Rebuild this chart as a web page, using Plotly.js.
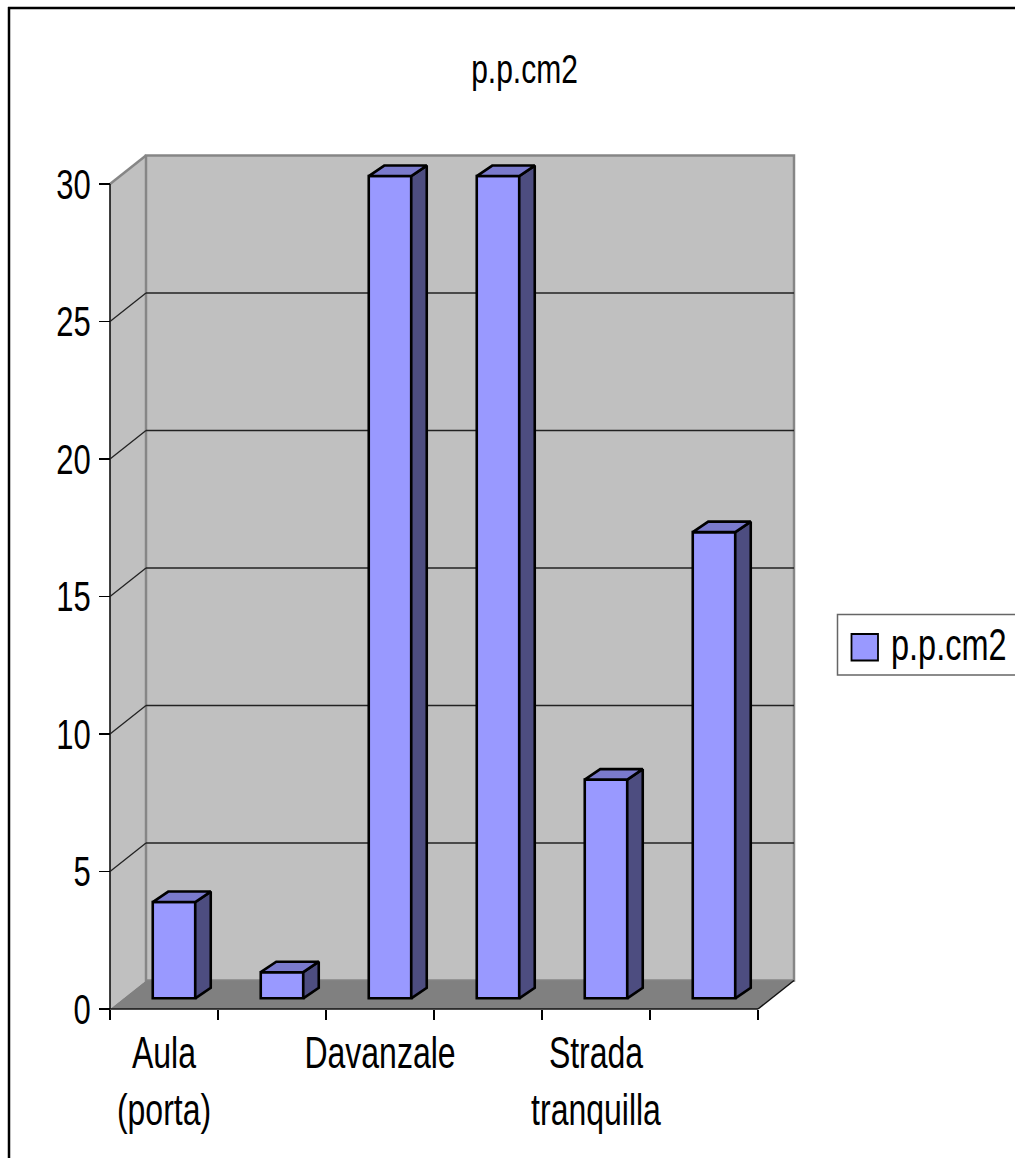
<!DOCTYPE html>
<html>
<head>
<meta charset="utf-8">
<title>p.p.cm2</title>
<script src="https://cdn.plot.ly/plotly-3.0.1.min.js"></script>
<style>html,body{margin:0;padding:0;background:#fff;overflow:hidden}#chart{width:1015px;height:1158px}</style>
</head>
<body>
<div id="chart"></div>
<script>
// Series
const categories = ['Aula (porta)', 'Cat 2', 'Davanzale', 'Cat 4', 'Strada tranquilla', 'Cat 6'];
const values = [3.5, 0.95, 29.9, 29.9, 7.95, 16.95];
const seriesName = 'p.p.cm2';

// Axis labels
const xLabelPositions = [0.5, 2.5, 4.5];
const xLabels = ['Aula<br>(porta)', 'Davanzale', 'Strada<br>tranquilla'];
const yTicks = [0, 5, 10, 15, 20, 25, 30];

// Page geometry
const W = 1015, H = 1158;
const origin = {x: 110, y: 1009};          // where value 0 meets the first category
const pxPerCat = 108, pxPerUnit = 27.5;
const plot = {l: 100, r: 800, t: 150, b: 1020};

// Oblique projection, in axis units
const wallDx = 36 / pxPerCat, wallDy = 28.5 / pxPerUnit;
const barShift = 10 / pxPerCat, barW = 42.5 / pxPerCat, barBase = 10.7 / pxPerUnit;
const barDx = 15.5 / pxPerCat, barDy = 10.5 / pxPerUnit;

// All chart text is drawn tall and narrow
const textStretch = 1.38;

const xRange = [(plot.l - origin.x) / pxPerCat, (plot.r - origin.x) / pxPerCat];
const yRange = [(origin.y - plot.b) / pxPerUnit, (origin.y - plot.t) / pxPerUnit];
const nCat = categories.length, yMax = yTicks[yTicks.length - 1];

const px = x => (x - plot.l) / (plot.r - plot.l);
const py = y => (plot.b - y) / (plot.b - plot.t);

const centers = categories.map((_, i) => i + 0.5 + barShift);

// Front faces come from a bar trace; top and side faces are derived from the same values
const sideX = [], sideY = [], topX = [], topY = [];
values.forEach((v, i) => {
  const r = centers[i] + barW / 2, l = centers[i] - barW / 2, t = barBase + v;
  sideX.push(r, r + barDx, r + barDx, r, r, null);
  sideY.push(barBase, barBase + barDy, t + barDy, t, barBase, null);
  topX.push(l, l + barDx, r + barDx, r, l, null);
  topY.push(t, t + barDy, t + barDy, t, t, null);
});

const edge = {color: '#000', width: 2.6};
const traces = [
  {type: 'bar', name: seriesName, x: centers, y: values, base: barBase, width: barW,
   marker: {color: '#9999ff', line: edge}, showlegend: false},
  {type: 'scatter', mode: 'lines', x: sideX, y: sideY, fill: 'toself', fillcolor: '#4d4d80',
   line: edge, showlegend: false},
  {type: 'scatter', mode: 'lines', x: topX, y: topY, fill: 'toself', fillcolor: '#7a7acc',
   line: edge, showlegend: false}
];

const poly = pts => 'M' + pts.map(p => p.join(',')).join('L') + 'Z';
const noLine = {width: 0};
const wallLine = {color: '#868686', width: 2.5};
const gridLine = {color: '#222', width: 1.3};
const shapes = [
  // Side wall, back wall and floor
  {type: 'path', layer: 'below', path: poly([[0, 0], [0, yMax], [wallDx, yMax + wallDy], [wallDx, wallDy]]),
   fillcolor: '#c0c0c0', line: noLine},
  {type: 'rect', layer: 'below', x0: wallDx, x1: nCat + wallDx, y0: wallDy, y1: yMax + wallDy,
   fillcolor: '#c0c0c0', line: wallLine},
  {type: 'path', layer: 'below', path: poly([[0, 0], [nCat, 0], [nCat + wallDx, wallDy], [wallDx, wallDy]]),
   fillcolor: '#808080', line: noLine},
  {type: 'line', layer: 'below', x0: 0, x1: wallDx, y0: yMax, y1: yMax + wallDy, line: wallLine},
  {type: 'line', layer: 'below', x0: nCat, x1: nCat + wallDx, y0: 0, y1: wallDy, line: {color: '#111', width: 1.5}},
  // Axis lines
  {type: 'line', layer: 'below', x0: 0, x1: 0, y0: 0, y1: yMax, line: {color: '#111', width: 1.6}},
  {type: 'line', layer: 'below', x0: 0, x1: nCat, y0: 0, y1: 0, line: {color: '#111', width: 1.6}},
  // Outer frame of the chart
  {type: 'line', xref: 'paper', yref: 'paper', x0: px(9), x1: px(9), y0: py(7), y1: py(H + 5), line: {color: '#000', width: 2.5}},
  {type: 'line', xref: 'paper', yref: 'paper', x0: px(8), x1: px(W + 5), y0: py(8), y1: py(8), line: {color: '#000', width: 2.5}},
  // Legend box and swatch
  {type: 'rect', xref: 'paper', yref: 'paper', x0: px(837.5), x1: px(W + 5), y0: py(614.5), y1: py(675),
   fillcolor: '#fff', line: {color: '#666', width: 1.5}},
  {type: 'rect', xref: 'paper', yref: 'paper', x0: px(851.5), x1: px(878), y0: py(634), y1: py(660.5),
   fillcolor: '#9999ff', line: {color: '#000', width: 1.8}}
];

// Gridlines: across the back wall, and down the side wall to each tick
yTicks.filter(v => v > 0 && v < yMax).forEach(v => {
  shapes.push({type: 'line', layer: 'below', x0: wallDx, x1: nCat + wallDx, y0: v + wallDy, y1: v + wallDy, line: gridLine});
  shapes.push({type: 'line', layer: 'below', x0: 0, x1: wallDx, y0: v, y1: v + wallDy, line: gridLine});
});

const font = {family: '"Liberation Sans", Arial, sans-serif', color: '#000'};

const layout = {
  width: W, height: H,
  margin: {l: plot.l, r: W - plot.r, t: plot.t, b: H - plot.b, pad: 0},
  paper_bgcolor: '#fff', plot_bgcolor: 'rgba(0,0,0,0)',
  showlegend: false,
  bargap: 0,
  title: {text: seriesName, x: 524.5 / W, xanchor: 'center', y: 1 - 75 / H, yanchor: 'middle',
          font: {...font, size: 30}},
  xaxis: {
    range: xRange, anchor: 'free', position: py(origin.y), showgrid: false, zeroline: false, showline: false,
    tickmode: 'array', tickvals: xLabelPositions, ticktext: xLabels, ticks: '', tickangle: 0,
    ticklabelstandoff: 12, tickfont: {...font, size: 32},
    minor: {tickmode: 'array', tickvals: categories.map((_, i) => i).concat(nCat), ticks: 'outside',
            ticklen: 10, tickwidth: 1.3, tickcolor: '#000', showgrid: false}
  },
  yaxis: {
    range: yRange, anchor: 'free', position: px(origin.x), showgrid: false, zeroline: false, showline: false,
    tickmode: 'array', tickvals: yTicks, ticks: 'outside', ticklen: 11, tickwidth: 1.3, tickcolor: '#000',
    ticklabelstandoff: 2, tickfont: {...font, size: 31}
  },
  shapes: shapes,
  annotations: [
    {xref: 'paper', yref: 'paper', x: px(889), y: py(646), xanchor: 'left', yanchor: 'middle',
     showarrow: false, text: seriesName, font: {...font, size: 32.5}}
  ]
};

// Stretch a text element upward from its first baseline, then nudge it vertically
function stretchText(el, nudge) {
  const x = parseFloat(el.getAttribute('x')) || 0;
  const y = parseFloat(el.getAttribute('y')) || 0;
  const prior = el.getAttribute('transform') || '';
  el.setAttribute('transform',
    `${prior} translate(0,${nudge}) translate(${x},${y}) scale(1,${textStretch}) translate(${-x},${-y})`);
}

Plotly.newPlot('chart', traces, layout, {staticPlot: true, displayModeBar: false}).then(gd => {
  gd.querySelectorAll('.ytick text').forEach(el => stretchText(el, 4));
  gd.querySelectorAll('.xtick text').forEach(el => stretchText(el, 14));
  gd.querySelectorAll('.gtitle').forEach(el => stretchText(el, -6));
  gd.querySelectorAll('.annotation-text').forEach(el => stretchText(el, 3));
});
</script>
</body>
</html>
